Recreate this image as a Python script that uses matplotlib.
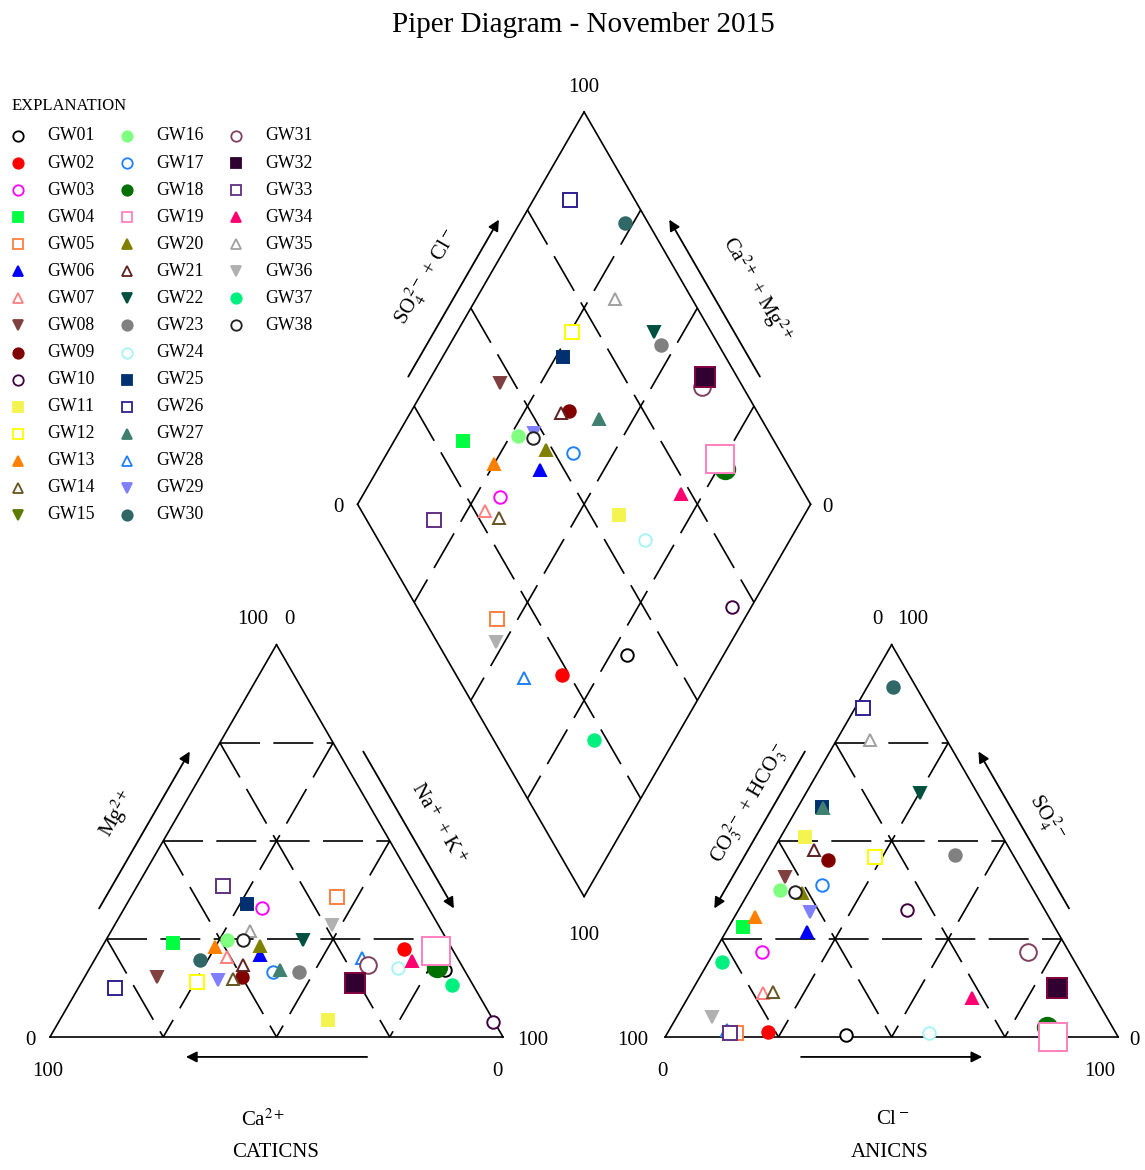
import numpy as np
import matplotlib
matplotlib.use('Agg')
import matplotlib.pyplot as plt

plt.rcParams['font.family'] = ['Liberation Serif', 'DejaVu Serif']
plt.rcParams['mathtext.fontset'] = 'stix'

# ---- sample data: percent of total cations / anions (meq/L) ----
wells = ['GW%02d' % i for i in range(1, 39)]
ca = [4.2, 10.7, 36.7, 60.8, 18.8, 43.2, 50.7, 68.7, 50.0, 0.3,
      36.5, 60.5, 52.1, 52.2, 2.8, 48.6, 42.5, 5.7, 3.9, 42.0,
      48.2, 31.8, 36.7, 14.4, 39.6, 79.4, 40.6, 21.1, 55.7, 57.1,
      20.6, 25.8, 42.6, 10.4, 42.3, 23.5, 4.6, 45.1]
mg = [17.1, 22.4, 32.9, 24.0, 35.7, 20.9, 20.4, 15.3, 15.3, 3.8,
      4.3, 14.0, 22.9, 14.8, 22.2, 24.7, 16.6, 17.8, 21.9, 23.2,
      18.4, 24.7, 16.6, 17.6, 33.9, 12.5, 17.1, 20.1, 14.5, 19.6,
      18.4, 13.8, 38.5, 19.4, 27.0, 28.5, 13.3, 24.7]
nak = [78.7, 66.9, 30.4, 15.2, 45.5, 35.9, 28.9, 16.0, 34.7, 95.9,
       59.2, 25.5, 25.0, 33.0, 75.0, 26.7, 40.9, 76.5, 74.2, 34.8,
       33.4, 43.5, 46.7, 68.0, 26.5, 8.1, 42.3, 58.8, 29.8, 23.3,
       61.0, 60.4, 18.9, 70.2, 30.7, 48.0, 82.1, 30.2]
hco3 = [59.8, 76.6, 67.7, 68.8, 83.8, 55.3, 72.8, 53.1, 41.5, 30.4,
        43.6, 30.7, 64.8, 70.4, 12.8, 55.8, 46.0, 14.5, 14.3, 51.4,
        43.4, 12.6, 12.8, 41.2, 36.0, 14.3, 35.9, 85.4, 52.0, 5.1,
        9.0, 7.2, 85.2, 27.3, 16.9, 87.1, 77.9, 52.8]
so4 = [0.5, 1.3, 21.7, 28.0, 1.0, 26.8, 11.2, 40.8, 45.1, 32.4,
       51.0, 45.9, 30.6, 11.5, 1.8, 37.5, 38.7, 2.5, 0.0, 36.7,
       47.7, 62.2, 46.4, 1.0, 58.6, 83.9, 58.4, 1.8, 31.9, 89.2,
       21.7, 12.5, 1.0, 9.9, 75.7, 5.1, 19.1, 37.0]
cl = [39.7, 22.1, 10.6, 3.2, 15.2, 17.9, 16.0, 6.1, 13.4, 37.2,
      5.4, 23.4, 4.6, 18.1, 85.4, 6.7, 15.3, 83.0, 85.7, 11.9,
      8.9, 25.2, 40.8, 57.8, 5.4, 1.8, 5.7, 12.8, 16.1, 5.7,
      69.3, 80.3, 13.8, 62.8, 7.4, 7.8, 3.0, 10.2]

# ---- symbol styles ----
markers = ['o', 'o', 'o', 's', 's', '^', '^', 'v', 'o', 'o',
           's', 's', '^', '^', 'v', 'o', 'o', 'o', 's', '^',
           '^', 'v', 'o', 'o', 's', 's', '^', '^', 'v', 'o',
           'o', 's', 's', '^', '^', 'v', 'o', 'o']
colors = ['#000000', '#FF0000', '#FF00FF', '#00FF40', '#FF8040', '#0000FF', '#FF8080', '#804040',
          '#800000', '#400040', '#F4F450', '#FFFF00', '#FF8000', '#665522', '#5A7A00', '#80FF80',
          '#1E80FF', '#007000', '#FF80C0', '#808000', '#602020', '#005040', '#808080', '#A8F4F4',
          '#003070', '#302090', '#408070', '#1E80FF', '#8080FF', '#306868', '#804060', '#300030',
          '#603080', '#FF0070', '#A0A0A0', '#B0B0B0', '#00F080', '#202020']
hollow = ['GW01', 'GW03', 'GW05', 'GW07', 'GW10', 'GW12', 'GW14', 'GW17', 'GW19', 'GW21',
          'GW24', 'GW26', 'GW28', 'GW31', 'GW33', 'GW35', 'GW38']
big = {'GW19': 20, 'GW32': 14, 'GW18': 14, 'GW31': 12, 'GW26': 10.5, 'GW33': 10.5,
       'GW05': 10.5, 'GW12': 10.5}

S3 = np.sqrt(3) / 2
OFF = 135.8          # x offset of the anion triangle (triangle side = 100)
U = 4.53             # pixels per unit


def cation_xy(m, n):
    return n + m / 2, m * S3


def anion_xy(s, c):
    return OFF + c + s / 2, s * S3


def diamond_xy(cx, cy, axx, ayy):
    t = (axx - cx) + (ayy - cy) / (2 * S3)
    return cx + 0.5 * t, cy + S3 * t


fig = plt.figure(figsize=(11.45, 11.7), dpi=100)
ax = fig.add_axes([0, 0, 1, 1])
ax.set_xlim(-50 / U, (1145 - 50) / U)
ax.set_ylim((1037 - 1170) / U, 1037 / U)
ax.axis('off')

DASH = (0, (24, 8))


def line(p, q, dashed=False):
    ax.plot([p[0], q[0]], [p[1], q[1]], color='black', lw=1.2,
            ls=DASH if dashed else '-', zorder=1)


# triangles
for x0 in (0, OFF):
    A, B, C = (x0, 0), (x0 + 100, 0), (x0 + 50, 100 * S3)
    line(A, B); line(B, C); line(C, A)
    for k in (25, 50, 75):
        line((x0 + k / 2, k * S3), (x0 + 100 - k / 2, k * S3), True)
        line((x0 + k + (100 - k) / 2, (100 - k) * S3), (x0 + k, 0), True)
        line((x0 + (100 - k) / 2, (100 - k) * S3), (x0 + 100 - k, 0), True)

# diamond
D0 = np.array([(100 + OFF) / 2, (OFF - 100) * S3])
uL = np.array([-0.5, S3])
uR = np.array([0.5, S3])
L, R, T = D0 + 100 * uL, D0 + 100 * uR, D0 + 100 * (uL + uR)
line(D0, L); line(L, T); line(T, R); line(R, D0)
for k in (25, 50, 75):
    line(D0 + k * uR + 100 * uL, D0 + k * uR, True)
    line(D0 + k * uL + 100 * uR, D0 + k * uL, True)


def edge_pt(p0, p1, f, off, n):
    p0, p1, n = np.array(p0), np.array(p1), np.array(n)
    return p0 + f * (p1 - p0) + off * n


def edge_arrow(p0, p1, n, off=4.8):
    a = edge_pt(p0, p1, 0.3, off, n)
    b = edge_pt(p0, p1, 0.7, off, n)
    ax.annotate('', xy=b, xytext=a,
                arrowprops=dict(arrowstyle='-|>', color='black', lw=1.3,
                                mutation_scale=16, shrinkA=0, shrinkB=0))


nl, nr, nd = (-S3, 0.5), (S3, 0.5), (0, -1)
cA, cB, cC = (0, 0), (100, 0), (50, 100 * S3)
aA, aB, aC = (OFF, 0), (OFF + 100, 0), (OFF + 50, 100 * S3)

edge_arrow(cA, cC, nl)
edge_arrow(cC, cB, nr)
edge_arrow(cB, cA, nd, 4.4)
edge_arrow(aC, aA, nl)
edge_arrow(aB, aC, nr)
edge_arrow(aA, aB, nd, 4.4)
edge_arrow(L, T, nl, 4.4)
edge_arrow(R, T, nr, 4.4)

FS = 15
lab = dict(fontsize=FS, ha='center', va='center', rotation_mode='anchor')
ax.text(*edge_pt(cA, cC, 0.5, 11.8, nl), r'Mg$^{2+}$', rotation=60, **lab)
ax.text(*edge_pt(cC, cB, 0.52, 11.0, nr), r'Na$^+$ + K$^+$', rotation=-60, **lab)
ax.text(*edge_pt(aC, aA, 0.46, 9.8, nl), r'CO$_3^{\,2-}$ + HCO$_3^{\,-}$', rotation=60, **lab)
ax.text(*edge_pt(aB, aC, 0.5, 10.5, nr), r'SO$_4^{\,2-}$', rotation=-60, **lab)
ax.text(*edge_pt(L, T, 0.51, 11.8, nl), r'SO$_4^{\,2-}$ + Cl$^-$', rotation=60, **lab)
ax.text(*edge_pt(R, T, 0.47, 13.5, nr), r'Ca$^{2+}$ + Mg$^{2+}$', rotation=-60, **lab)

ax.text(47, -18.3, r'Ca$^{2+}$', **lab)
ax.text(49.7, -25.6, 'CATICNS', **lab)
ax.text(OFF + 50.3, -18.3, r'Cl$^-$', **lab)
ax.text(OFF + 49.6, -25.6, 'ANICNS', **lab)

# scale numbers at the corners
num = dict(fontsize=FS, ha='center', va='center')
ax.text(-4.4, -0.7, '0', **num)
ax.text(106.6, -0.7, '100', **num)
ax.text(-0.4, -7.7, '100', **num)
ax.text(98.7, -7.7, '0', **num)
ax.text(44.8, 92.1, '100', **num)
ax.text(52.8, 92.1, '0', **num)
ax.text(OFF + 46.8, 92.1, '0', **num)
ax.text(OFF + 54.7, 92.1, '100', **num)
ax.text(OFF - 7.1, -0.7, '100', **num)
ax.text(OFF + 103.7, -0.7, '0', **num)
ax.text(OFF - 0.7, -7.7, '0', **num)
ax.text(OFF + 96, -7.7, '100', **num)
ax.text(T[0], T[1] + 5.3, '100', **num)
ax.text(L[0] - 4.3, L[1] - 0.8, '0', **num)
ax.text(R[0] + 3.8, R[1] - 0.8, '0', **num)
ax.text(D0[0], D0[1] - 8.5, '100', **num)

# samples
for i, w in enumerate(wells):
    cx, cy = cation_xy(mg[i], nak[i])
    axx, ayy = anion_xy(so4[i], cl[i])
    dx, dy = diamond_xy(cx, cy, axx, ayy)
    face = 'white' if w in hollow else colors[i]
    edge = '#800040' if w == 'GW32' else colors[i]
    ax.plot([cx, axx, dx], [cy, ayy, dy], ls='none', marker=markers[i],
            ms=big.get(w, 9), mfc=face, mec=edge, mew=1.4, zorder=3 + i * 0.01)

# explanation (legend) in pixel coordinates
lg = fig.add_axes([0, 0, 1, 1], facecolor='none')
lg.set_xlim(0, 1145)
lg.set_ylim(1170, 0)
lg.axis('off')
lg.text(12, 106, 'EXPLANATION', fontsize=12, ha='left', va='center')
col_x = [18, 127, 236]
for i, w in enumerate(wells):
    c, r = divmod(i, 15)
    y = 136 + 27.07 * r
    face = 'white' if w in hollow else colors[i]
    lg.plot(col_x[c], y, marker=markers[i], ms=7.5, mfc=face, mec=colors[i], mew=1.3)
    lg.text(col_x[c] + 29, y, w, fontsize=12.8, ha='left', va='center')

fig.text(583 / 1145, 1 - 25 / 1170, 'Piper Diagram - November 2015',
         fontsize=21, ha='center', va='center')

fig.savefig('out.png', dpi=100)
